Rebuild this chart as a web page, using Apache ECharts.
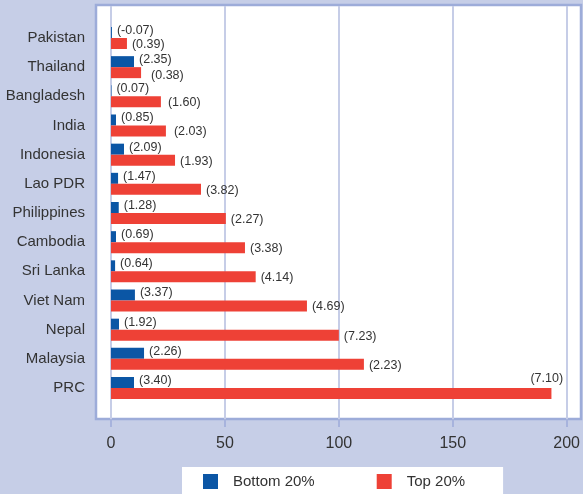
<!DOCTYPE html>
<html>
<head>
<meta charset="utf-8">
<script src="https://cdn.jsdelivr.net/npm/echarts@6/dist/echarts.min.js"></script>
<style>
  html, body { margin: 0; padding: 0; background: #c6cee7; }
  #chart { width: 583px; height: 494px; }
</style>
</head>
<body>
<div id="chart"></div>
<script>
// Countries, top to bottom
const categories = ['Pakistan', 'Thailand', 'Bangladesh', 'India', 'Indonesia', 'Lao PDR',
  'Philippines', 'Cambodia', 'Sri Lanka', 'Viet Nam', 'Nepal', 'Malaysia', 'PRC'];

// Bar lengths read on the 0-200 scale
const bottom20 = [0.4, 10.1, 0.2, 2.2, 5.7, 3.1, 3.4, 2.2, 1.8, 10.5, 3.5, 14.5, 10.1];
const top20 = [7.0, 13.2, 21.9, 24.1, 28.1, 39.5, 50.4, 58.8, 63.5, 86.0, 100.0, 111.0, 193.3];

// Bracketed figures printed beside each bar
const bottom20Notes = ['-0.07', '2.35', '0.07', '0.85', '2.09', '1.47', '1.28', '0.69', '0.64', '3.37', '1.92', '2.26', '3.40'];
const top20Notes = ['0.39', '0.38', '1.60', '2.03', '1.93', '3.82', '2.27', '3.38', '4.14', '4.69', '7.23', '2.23', '7.10'];

const xTicks = { min: 0, max: 200, interval: 50 };

const seriesNames = ['Bottom 20%', 'Top 20%'];
const colors = ['#0b56a5', '#ee4136'];

const chart = echarts.init(document.getElementById('chart'), null, { renderer: 'canvas' });

const textColor = '#333333';
const font = 'Liberation Sans, Arial, sans-serif';

function labelled(values, notes, extra) {
  return values.map((v, i) => {
    const item = { value: v, note: notes[i] };
    if (extra && extra[i]) item.label = extra[i];
    return item;
  });
}

// A few red labels stand a little further from their bars; the last one sits above its bar end
const topLabelOverrides = {};
topLabelOverrides[categories.indexOf('Thailand')] = { offset: [5, 3] };
topLabelOverrides[categories.indexOf('Bangladesh')] = { offset: [2, 1] };
topLabelOverrides[categories.indexOf('India')] = { offset: [3, 1] };
topLabelOverrides[categories.indexOf('PRC')] = { position: 'right', distance: 0, offset: [-21, -15] };

const option = {
  backgroundColor: '#c6cee7',
  animation: false,
  graphic: [{
    type: 'rect',
    z: -10,
    shape: { x: 96, y: 5, width: 485, height: 414 },
    style: { fill: '#ffffff', stroke: '#9dacd9', lineWidth: 2.5 }
  }],
  grid: [
    { left: 111, right: 16.3, top: 6, bottom: 75 },
    { left: 111, right: 16.3, top: 23.4, bottom: 91.4 }
  ],
  xAxis: [
    {
      gridIndex: 0, type: 'value', min: xTicks.min, max: xTicks.max, interval: xTicks.interval,
      axisLine: { show: false },
      axisTick: { show: true, length: 8, lineStyle: { color: '#a7b3dd', width: 2 } },
      splitLine: { show: true, lineStyle: { color: '#c6cde7', width: 2 } },
      axisLabel: { color: textColor, fontSize: 16, fontFamily: font, margin: 17 }
    },
    { gridIndex: 1, type: 'value', min: xTicks.min, max: xTicks.max, show: false }
  ],
  yAxis: [
    { gridIndex: 0, type: 'value', show: false },
    {
      gridIndex: 1, type: 'category', data: categories, inverse: true,
      axisLine: { show: false }, axisTick: { show: false }, splitLine: { show: false },
      axisLabel: { color: textColor, fontSize: 15, fontFamily: font, margin: 26, padding: [3, 0, 0, 0] }
    }
  ],
  legend: {
    data: seriesNames,
    left: 182, top: 467,
    backgroundColor: '#ffffff',
    padding: [7, 38, 12, 21],
    itemWidth: 15, itemHeight: 15, itemGap: 62,
    icon: 'rect',
    textStyle: { color: textColor, fontSize: 15, fontFamily: font, padding: [0, 0, 0, 10] }
  },
  series: [
    {
      name: seriesNames[0], type: 'bar', xAxisIndex: 1, yAxisIndex: 1,
      data: labelled(bottom20, bottom20Notes),
      barWidth: 11, barGap: '0%',
      itemStyle: { color: colors[0] },
      label: {
        show: true, position: 'right', distance: 5, offset: [0, -2],
        color: textColor, fontSize: 12.5, fontFamily: font,
        formatter: p => '(' + p.data.note + ')'
      }
    },
    {
      name: seriesNames[1], type: 'bar', xAxisIndex: 1, yAxisIndex: 1,
      data: labelled(top20, top20Notes, topLabelOverrides),
      barWidth: 11, barGap: '0%',
      itemStyle: { color: colors[1] },
      label: {
        show: true, position: 'right', distance: 5, offset: [0, 1],
        color: textColor, fontSize: 12.5, fontFamily: font,
        formatter: p => '(' + p.data.note + ')'
      }
    }
  ]
};

chart.setOption(option);
</script>
</body>
</html>
